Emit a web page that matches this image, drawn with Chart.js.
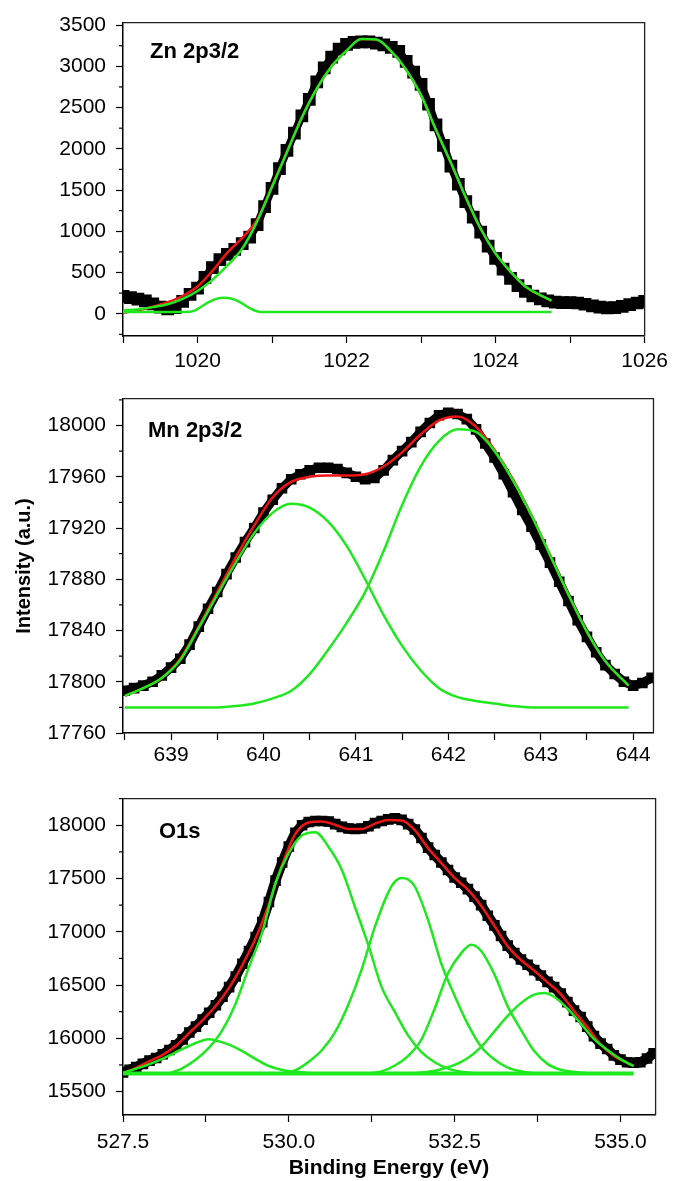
<!DOCTYPE html>
<html>
<head>
<meta charset="utf-8">
<title>XPS core levels</title>
<script src="https://cdn.jsdelivr.net/npm/chart.js@4.4.1/dist/chart.umd.min.js"></script>
<style>
  body { margin: 0; background: #fff; }
  #page { position: relative; width: 674px; height: 1181px; overflow: hidden; }
  #page canvas { position: absolute; left: 0; }
</style>
</head>
<body>
<div id="page">
  <canvas id="znChart" width="674" height="376" style="top:0px"></canvas>
  <canvas id="mnChart" width="674" height="400" style="top:376px"></canvas>
  <canvas id="oChart" width="674" height="405" style="top:776px"></canvas>
</div>
<script>
const FONT = 'Liberation Sans, Arial, Helvetica, sans-serif';
const GREEN = '#1fe81f';
const RED = '#f01414';

// ---------- Zn 2p3/2 ----------
const znEnergy = [
  1019.0, 1019.1, 1019.2, 1019.3, 1019.4, 1019.5, 1019.6, 1019.7, 1019.8, 1019.9,
  1020.0, 1020.1, 1020.2, 1020.3, 1020.4, 1020.5, 1020.6, 1020.7, 1020.8, 1020.9,
  1021.0, 1021.1, 1021.2, 1021.3, 1021.4, 1021.5, 1021.6, 1021.7, 1021.8, 1021.9,
  1022.0, 1022.1, 1022.2, 1022.3, 1022.4, 1022.5, 1022.6, 1022.7, 1022.8, 1022.9,
  1023.0, 1023.1, 1023.2, 1023.3, 1023.4, 1023.5, 1023.6, 1023.7, 1023.8, 1023.9,
  1024.0, 1024.1, 1024.2, 1024.3, 1024.4, 1024.5, 1024.6, 1024.7, 1024.8, 1024.9,
  1025.0, 1025.1, 1025.2, 1025.3, 1025.4, 1025.5, 1025.6, 1025.7, 1025.8, 1025.9,
  1026.0
];
const znCounts = [
  210, 195, 178, 155, 120, 80, 58, 75, 150, 235,
  310, 440, 560, 655, 720, 780, 850, 930, 1080, 1300,
  1520, 1760, 1980, 2190, 2400, 2600, 2810, 2980, 3110, 3210,
  3265, 3290, 3295, 3295, 3280, 3260, 3230, 3180, 3060, 2930,
  2780, 2540, 2290, 2040, 1790, 1570, 1360, 1170, 990, 820,
  670, 540, 430, 340, 270, 215, 180, 155, 140, 135,
  135, 130, 115, 95, 80, 70, 75, 90, 110, 130,
  150
];
const znFitEnergy = [
  1019.0, 1019.2, 1019.4, 1019.6, 1019.8, 1020.0, 1020.2, 1020.4, 1020.6, 1020.8,
  1021.0, 1021.2, 1021.4, 1021.6, 1021.8, 1022.0, 1022.2, 1022.4, 1022.6, 1022.8,
  1023.0, 1023.2, 1023.4, 1023.6, 1023.8, 1024.0, 1024.2, 1024.4, 1024.6, 1024.75
];
const znEnvelope = [
  12, 42, 85, 140, 215, 330, 520, 740, 920, 1140,
  1545, 1960, 2380, 2730, 3000, 3190, 3330, 3325, 3180, 2960,
  2650, 2230, 1830, 1410, 1030, 730, 510, 330, 225, 160
];
const znMainPeak = [
  40, 55, 80, 115, 180, 275, 410, 585, 790, 1120,
  1540, 1960, 2380, 2730, 3000, 3190, 3330, 3325, 3180, 2960,
  2650, 2230, 1830, 1410, 1030, 730, 510, 330, 225, 160
];
const znShoulderEnergy = [1019.0, 1019.85, 1019.95, 1020.05, 1020.15, 1020.25, 1020.35, 1020.45, 1020.55, 1020.65, 1020.75, 1020.85, 1024.75];
const znShoulder = [20, 20, 35, 85, 140, 180, 195, 185, 150, 95, 45, 20, 20];
const znXLabels = [1020, 1022, 1024, 1026];
const znXMinor = [1019, 1021, 1023, 1025];
const znYLabels = [0, 500, 1000, 1500, 2000, 2500, 3000, 3500];
const znYMinor = [-250, 250, 750, 1250, 1750, 2250, 2750, 3250];

// ---------- Mn 2p3/2 ----------
const mnEnergy = [
  638.5, 638.6, 638.7, 638.8, 638.9,
  639.0, 639.1, 639.2, 639.3, 639.4, 639.5, 639.6, 639.7, 639.8, 639.9,
  640.0, 640.1, 640.2, 640.3, 640.4, 640.5, 640.6, 640.7, 640.8, 640.9,
  641.0, 641.1, 641.2, 641.3, 641.4, 641.5, 641.6, 641.7, 641.8, 641.9,
  642.0, 642.1, 642.2, 642.3, 642.4, 642.5, 642.6, 642.7, 642.8, 642.9,
  643.0, 643.1, 643.2, 643.3, 643.4, 643.5, 643.6, 643.7, 643.8, 643.9,
  644.0, 644.1, 644.2
];
const mnCounts = [
  17793, 17795, 17797, 17800, 17805,
  17811, 17818, 17829, 17843, 17857, 17870, 17884, 17897, 17909, 17920,
  17932, 17942, 17951, 17958, 17962, 17965, 17967, 17967, 17966, 17963,
  17960, 17958, 17959, 17965, 17973, 17980, 17987, 17995, 18002, 18008,
  18010, 18009, 18005, 17997, 17986, 17975, 17962, 17948, 17934, 17921,
  17907, 17893, 17878, 17863, 17848, 17835, 17823, 17813, 17806, 17800,
  17797, 17799, 17803
];
const mnFitEnergy = [
  638.5, 638.7, 638.9, 639.1, 639.3, 639.5, 639.7, 639.9, 640.1, 640.3,
  640.5, 640.7, 640.9, 641.1, 641.3, 641.5, 641.7, 641.9, 642.1, 642.3,
  642.5, 642.7, 642.9, 643.1, 643.3, 643.5, 643.7, 643.95
];
const mnEnvelope = [
  17789, 17795, 17803, 17818, 17843, 17870, 17897, 17922, 17944, 17956,
  17960, 17961, 17961, 17962, 17968, 17979, 17993, 18004, 18007, 17999,
  17981, 17958, 17930, 17899, 17868, 17839, 17816, 17797
];
const mnLowPeak = [
  17789, 17795, 17803, 17817, 17842, 17868, 17893, 17916, 17932, 17939,
  17936, 17925, 17906, 17880, 17852, 17828, 17809, 17795, 17788, 17785,
  17783, 17781, 17780, 17780, 17780, 17780, 17780, 17780
];
const mnHighPeak = [
  17780, 17780, 17780, 17780, 17780, 17780, 17781, 17783, 17787, 17793,
  17806, 17825, 17846, 17870, 17902, 17938, 17968, 17988, 17997, 17995,
  17980, 17957, 17930, 17899, 17868, 17839, 17816, 17797
];
const mnXLabels = [639, 640, 641, 642, 643, 644];
const mnXMinor = [638.5, 639.5, 640.5, 641.5, 642.5, 643.5];
const mnYLabels = [17760, 17800, 17840, 17880, 17920, 17960, 18000];
const mnYMinor = [17780, 17820, 17860, 17900, 17940, 17980, 18020];

// ---------- O1s ----------
const oEnergy = [
  527.5, 527.6, 527.7, 527.8, 527.9,
  528.0, 528.1, 528.2, 528.3, 528.4, 528.5, 528.6, 528.7, 528.8, 528.9,
  529.0, 529.1, 529.2, 529.3, 529.4, 529.5, 529.6, 529.7, 529.8, 529.9,
  530.0, 530.1, 530.2, 530.3, 530.4, 530.5, 530.6, 530.7, 530.8, 530.9,
  531.0, 531.1, 531.2, 531.3, 531.4, 531.5, 531.6, 531.7, 531.8, 531.9,
  532.0, 532.1, 532.2, 532.3, 532.4, 532.5, 532.6, 532.7, 532.8, 532.9,
  533.0, 533.1, 533.2, 533.3, 533.4, 533.5, 533.6, 533.7, 533.8, 533.9,
  534.0, 534.1, 534.2, 534.3, 534.4, 534.5, 534.6, 534.7, 534.8, 534.9,
  535.0, 535.1, 535.2, 535.3, 535.4, 535.5
];
const oCounts = [
  15680, 15705, 15730, 15760, 15790,
  15815, 15850, 15890, 15935, 15990, 16055, 16110, 16175, 16240, 16310,
  16390, 16480, 16580, 16700, 16820, 16950, 17090, 17280, 17480, 17650,
  17800, 17930, 18000, 18030, 18040, 18040, 18035, 18010, 17985, 17970,
  17965, 17970, 17990, 18020, 18040, 18055, 18065, 18050, 18010, 17960,
  17880, 17790, 17720, 17650, 17580, 17510, 17460, 17400, 17330, 17250,
  17150, 17060, 16960, 16870, 16800, 16740, 16690, 16640, 16590, 16530,
  16480, 16420, 16340, 16260, 16200, 16110, 16020, 15950, 15900, 15840,
  15800, 15775, 15770, 15775, 15810, 15860
];
const oFitEnergy = [
  527.5, 527.7, 527.9, 528.1, 528.3, 528.5, 528.7, 528.9, 529.1, 529.3,
  529.5, 529.7, 529.9, 530.1, 530.3, 530.5, 530.7, 530.9, 531.1, 531.3,
  531.5, 531.7, 531.9, 532.1, 532.3, 532.5, 532.7, 532.9, 533.1, 533.3,
  533.5, 533.7, 533.9, 534.1, 534.3, 534.5, 534.7, 534.9, 535.1, 535.2
];
const oEnvelope = [
  15670, 15725, 15785, 15845, 15930, 16050, 16170, 16305, 16475, 16690,
  16940, 17260, 17630, 17920, 18025, 18035, 18005, 17965, 17965, 18015,
  18050, 18045, 17955, 17785, 17645, 17505, 17395, 17245, 17055, 16865,
  16735, 16635, 16525, 16415, 16255, 16105, 15945, 15835, 15770, 15740
];
const oPeak1Energy = [527.5, 527.7, 527.9, 528.1, 528.3, 528.5, 528.7, 528.8, 528.9, 529.1, 529.3, 529.5, 529.7, 529.9, 530.1, 530.3, 530.5];
const oPeak1 = [15675, 15715, 15758, 15810, 15870, 15930, 15980, 15990, 15980, 15940, 15880, 15805, 15740, 15702, 15685, 15675, 15670];
const oPeak2Energy = [528.2, 528.4, 528.6, 528.8, 529.0, 529.2, 529.4, 529.6, 529.8, 530.0, 530.2, 530.4, 530.6, 530.8, 531.0, 531.2, 531.4, 531.6, 531.8, 532.0, 532.2, 532.4, 532.6, 532.8];
const oPeak2 = [15670, 15720, 15800, 15915, 16080, 16330, 16670, 17000, 17460, 17740, 17905, 17935, 17795, 17580, 17228, 16874, 16480, 16245, 16025, 15870, 15775, 15715, 15686, 15672];
const oPeak3Energy = [529.9, 530.1, 530.3, 530.5, 530.7, 530.9, 531.1, 531.3, 531.5, 531.6, 531.7, 531.8, 531.9, 532.1, 532.3, 532.5, 532.7, 532.9, 533.1, 533.3, 533.5, 533.7];
const oPeak3 = [15670, 15700, 15780, 15890, 16060, 16320, 16650, 17050, 17370, 17470, 17505, 17490, 17425, 17110, 16700, 16400, 16130, 15920, 15800, 15725, 15690, 15672];
const oPeak4Energy = [531.2, 531.4, 531.6, 531.8, 532.0, 532.2, 532.4, 532.6, 532.75, 532.9, 533.1, 533.3, 533.5, 533.7, 533.9, 534.1, 534.3, 534.5];
const oPeak4 = [15670, 15690, 15745, 15835, 15990, 16280, 16610, 16800, 16878, 16820, 16600, 16300, 16080, 15880, 15760, 15705, 15685, 15672];
const oPeak5Energy = [531.9, 532.1, 532.3, 532.5, 532.7, 532.9, 533.1, 533.3, 533.5, 533.7, 533.85, 534.0, 534.2, 534.4, 534.6, 534.8, 535.0, 535.2];
const oPeak5 = [15672, 15685, 15710, 15750, 15815, 15920, 16065, 16210, 16330, 16410, 16425, 16390, 16280, 16140, 15995, 15893, 15805, 15740];
const oBaseEnergy = [527.5, 535.2];
const oBase = [15670, 15670];
const oXLabels = [527.5, 530, 532.5, 535];
const oXMinor = [528.75, 531.25, 533.75];
const oYLabels = [15500, 16000, 16500, 17000, 17500, 18000];
const oYMinor = [15750, 16250, 16750, 17250, 17750, 18250];

// ---------- helpers ----------
const pts = (xs, ys) => xs.map((x, i) => ({ x: x, y: ys[i] }));

// raw spectrum: thick black trace with square markers
function measured(xs, ys, size, width) {
  return {
    data: pts(xs, ys), showLine: true, borderColor: '#000', borderWidth: width,
    pointStyle: 'rect', pointRadius: size, pointBackgroundColor: '#000',
    pointBorderWidth: 0, tension: 0, clip: 0, order: 3
  };
}

// fitted envelope / components
function fitCurve(xs, ys, color, width, order) {
  return {
    data: pts(xs, ys), borderColor: color, borderWidth: width, pointRadius: 0,
    cubicInterpolationMode: 'monotone', clip: 0, order: order
  };
}

function makePanel(id, cfg) {
  const xTicks = cfg.xLabels.concat(cfg.xMinor).sort((a, b) => a - b);
  const yTicks = cfg.yLabels.concat(cfg.yMinor).sort((a, b) => a - b);
  const tickFont = { family: FONT, size: 21 };

  const decor = {
    id: 'decor',
    afterDraw(chart) {
      const { ctx, chartArea: a, scales } = chart;
      ctx.save();
      // box: top and right edges
      ctx.strokeStyle = '#222';
      ctx.lineWidth = 1.3;
      ctx.beginPath();
      ctx.moveTo(a.left, a.top);
      ctx.lineTo(a.right, a.top);
      ctx.lineTo(a.right, a.bottom);
      ctx.stroke();
      // short minor ticks on the y axis
      ctx.strokeStyle = '#000';
      ctx.lineWidth = 1.2;
      cfg.yMinor.forEach(v => {
        const py = scales.y.getPixelForValue(v);
        ctx.beginPath();
        ctx.moveTo(a.left - 4, py);
        ctx.lineTo(a.left, py);
        ctx.stroke();
      });
      // core level name
      ctx.fillStyle = '#000';
      ctx.font = 'bold 22px ' + FONT;
      ctx.textBaseline = 'middle';
      ctx.textAlign = 'left';
      ctx.fillText(cfg.label, a.left + cfg.labelAt[0], a.top + cfg.labelAt[1]);
      // axis titles
      (cfg.titles || []).forEach(t => {
        ctx.save();
        ctx.translate(t.x, t.y);
        ctx.rotate(t.rot);
        ctx.font = 'bold ' + t.size + 'px ' + FONT;
        ctx.textAlign = 'center';
        ctx.textBaseline = 'middle';
        ctx.fillText(t.text, 0, 0);
        ctx.restore();
      });
      ctx.restore();
    }
  };

  return new Chart(document.getElementById(id), {
    type: 'line',
    data: { datasets: cfg.datasets },
    options: {
      responsive: false,
      animation: false,
      events: [],
      layout: { autoPadding: false, padding: { top: cfg.padTop, right: cfg.padRight, left: 0, bottom: 0 } },
      plugins: { legend: { display: false }, tooltip: { enabled: false } },
      scales: {
        x: {
          type: 'linear', bounds: 'data', min: cfg.x[0], max: cfg.x[1],
          afterFit: s => { s.height = cfg.xHeight; },
          afterBuildTicks: s => { s.ticks = xTicks.map(v => ({ value: v })); },
          border: { color: '#000', width: 1.5 },
          grid: { drawOnChartArea: false, tickLength: 7, tickWidth: 1.2, tickColor: '#000' },
          ticks: {
            autoSkip: false, maxRotation: 0, minRotation: 0, padding: cfg.xPad,
            color: '#000', font: tickFont,
            callback: v => cfg.xLabels.includes(v) ? v.toFixed(cfg.xDecimals) : ''
          }
        },
        y: {
          type: 'linear', bounds: 'data', min: cfg.y[0], max: cfg.y[1],
          afterFit: s => { s.width = 123; },
          afterBuildTicks: s => { s.ticks = yTicks.map(v => ({ value: v })); },
          border: { color: '#000', width: 1.5 },
          grid: {
            drawOnChartArea: false, tickLength: 7, tickWidth: 1.2,
            tickColor: c => (c.tick && cfg.yLabels.includes(c.tick.value)) ? '#000' : 'rgba(0,0,0,0)'
          },
          ticks: {
            autoSkip: false, padding: 10, color: '#000', font: tickFont,
            callback: v => cfg.yLabels.includes(v) ? String(v) : ''
          }
        }
      }
    },
    plugins: [decor]
  });
}

makePanel('znChart', {
  padTop: 19, padRight: 24, xHeight: 40, xPad: 6,
  x: [1019, 1026], xLabels: znXLabels, xMinor: znXMinor, xDecimals: 0,
  y: [-270, 3530], yLabels: znYLabels, yMinor: znYMinor,
  label: 'Zn 2p3/2', labelAt: [27, 29],
  datasets: [
    fitCurve(znShoulderEnergy, znShoulder, GREEN, 2.5, 1),
    fitCurve(znFitEnergy, znMainPeak, GREEN, 2.5, 1),
    fitCurve(znFitEnergy, znEnvelope, RED, 2.5, 2),
    measured(znEnergy, znCounts, 9, 8)
  ]
});

makePanel('mnChart', {
  padTop: 7, padRight: 20.5, xHeight: 43, xPad: 3,
  x: [638.48, 644.22], xLabels: mnXLabels, xMinor: mnXMinor, xDecimals: 0,
  y: [17760, 18021], yLabels: mnYLabels, yMinor: mnYMinor,
  label: 'Mn 2p3/2', labelAt: [25, 32],
  titles: [{ text: 'Intensity (a.u.)', x: 24, y: 190, rot: -Math.PI / 2, size: 20 }],
  datasets: [
    fitCurve(mnFitEnergy, mnLowPeak, GREEN, 2.5, 1),
    fitCurve(mnFitEnergy, mnHighPeak, GREEN, 2.5, 1),
    fitCurve(mnFitEnergy, mnEnvelope, RED, 2.5, 2),
    measured(mnEnergy, mnCounts, 7.5, 9)
  ]
});

makePanel('oChart', {
  padTop: 6, padRight: 18.4, xHeight: 66, xPad: 8,
  x: [527.5, 535.53], xLabels: oXLabels, xMinor: oXMinor, xDecimals: 1,
  y: [15280, 18250], yLabels: oYLabels, yMinor: oYMinor,
  label: 'O1s', labelAt: [36, 33],
  titles: [{ text: 'Binding Energy (eV)', x: 389, y: 392, rot: 0, size: 21 }],
  datasets: [
    fitCurve(oBaseEnergy, oBase, GREEN, 4, 1),
    fitCurve(oPeak1Energy, oPeak1, GREEN, 2.5, 1),
    fitCurve(oPeak2Energy, oPeak2, GREEN, 2.5, 1),
    fitCurve(oPeak3Energy, oPeak3, GREEN, 2.5, 1),
    fitCurve(oPeak4Energy, oPeak4, GREEN, 2.5, 1),
    fitCurve(oPeak5Energy, oPeak5, GREEN, 2.5, 1),
    fitCurve(oFitEnergy, oEnvelope, RED, 2.5, 2),
    measured(oEnergy, oCounts, 7.5, 10)
  ]
});
</script>
</body>
</html>
